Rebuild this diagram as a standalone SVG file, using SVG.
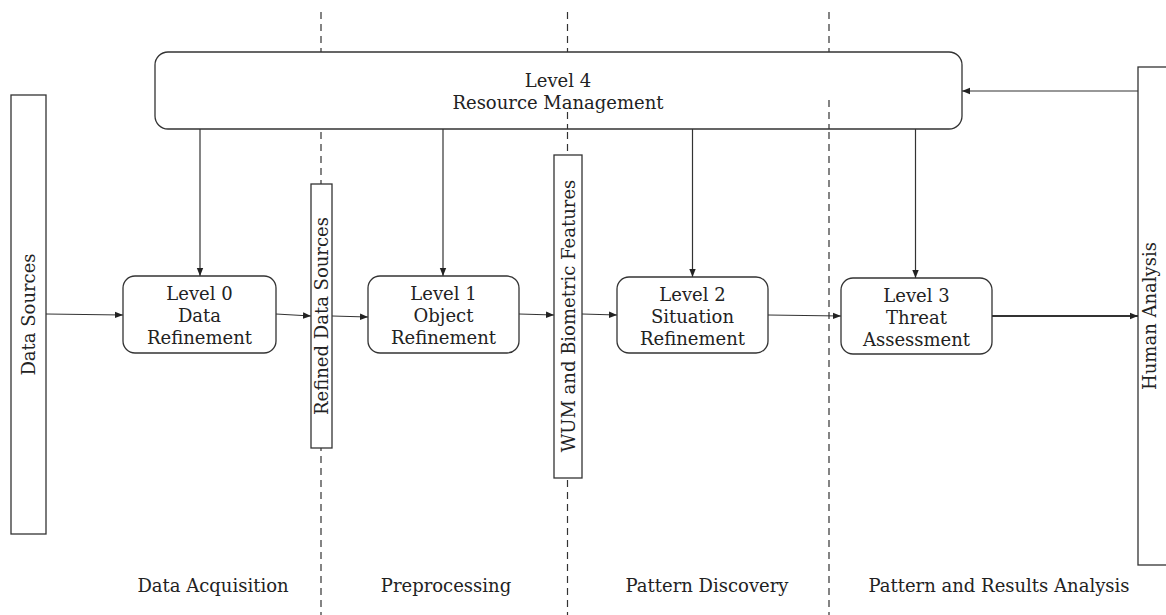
<svg xmlns="http://www.w3.org/2000/svg" width="1166" height="615" viewBox="0 0 1166 615">
<defs>
<style>
.box{fill:#fff;stroke:#333;stroke-width:1.3}
.bar{fill:#fff;stroke:#333;stroke-width:1.3}
.t{font-family:"DejaVu Serif","Liberation Serif",serif;font-size:18px;fill:#222;text-anchor:middle}
.c{stroke:#333;stroke-width:1.2;fill:none;marker-end:url(#ah)}
.dash{stroke:#333;stroke-width:1.2;stroke-dasharray:7 5;fill:none}
</style>
<marker id="ah" viewBox="0 0 10 10" refX="10" refY="5" markerWidth="8" markerHeight="8" markerUnits="userSpaceOnUse" orient="auto">
<path d="M0,1 L10,5 L0,9 Z" fill="#222"/>
</marker>
</defs>
<rect width="1166" height="615" fill="#fff"/>
<g id="lanes">
<line class="dash" x1="321" y1="12" x2="321" y2="615"/>
<line class="dash" x1="567.5" y1="12" x2="567.5" y2="615"/>
<line class="dash" x1="829" y1="12" x2="829" y2="615"/>
<text class="t" x="213" y="592">Data Acquisition</text>
<text class="t" x="446" y="592">Preprocessing</text>
<text class="t" x="707" y="592">Pattern Discovery</text>
<text class="t" x="999" y="592">Pattern and Results Analysis</text>
</g>
<g id="connectors">
<line class="c" x1="46" y1="314" x2="123" y2="315"/>
<line class="c" x1="276" y1="314" x2="311" y2="316"/>
<line class="c" x1="332" y1="316" x2="368" y2="317"/>
<line class="c" x1="519" y1="314" x2="554" y2="315"/>
<line class="c" x1="582" y1="314" x2="617" y2="315"/>
<line class="c" x1="768" y1="315" x2="841" y2="316"/>
<line class="c" x1="992" y1="316" x2="1138" y2="316" style="stroke-width:1.8"/>
<line class="c" x1="1138" y1="91" x2="962" y2="91"/>
<line class="c" x1="200" y1="129" x2="200" y2="276"/>
<line class="c" x1="443" y1="129" x2="443" y2="276"/>
<line class="c" x1="692.5" y1="129" x2="692.5" y2="277"/>
<line class="c" x1="915.5" y1="129" x2="915.5" y2="278"/>
</g>
<g id="level4">
<rect class="box" x="155" y="52" width="807" height="77" rx="13"/>
<text class="t" x="558" y="87">Level 4</text>
<text class="t" x="558" y="109">Resource Management</text>
<line class="dash" x1="567.5" y1="112" x2="567.5" y2="129"/>
<line class="dash" x1="829" y1="100" x2="829" y2="129"/>
</g>
<g id="data-sources">
<rect class="bar" x="11" y="95" width="35" height="439"/>
<text class="t" transform="translate(34.5,314.5) rotate(-90)">Data Sources</text>
</g>
<g id="refined-data-sources">
<rect class="bar" x="311" y="184" width="21" height="264"/>
<text class="t" transform="translate(328,316) rotate(-90)">Refined Data Sources</text>
</g>
<g id="wum">
<rect class="bar" x="554" y="155" width="28" height="323"/>
<text class="t" transform="translate(574.5,316) rotate(-90)">WUM and Biometric Features</text>
</g>
<g id="human-analysis">
<rect class="bar" x="1138" y="67" width="40" height="498"/>
<text class="t" transform="translate(1156,316) rotate(-90)">Human Analysis</text>
</g>
<g id="level0">
<rect class="box" x="123" y="276" width="153" height="77" rx="12"/>
<text class="t" x="199.5" y="300">Level 0</text>
<text class="t" x="199.5" y="322">Data</text>
<text class="t" x="199.5" y="344">Refinement</text>
</g>
<g id="level1">
<rect class="box" x="368" y="276" width="151" height="77" rx="12"/>
<text class="t" x="443.5" y="300">Level 1</text>
<text class="t" x="443.5" y="322">Object</text>
<text class="t" x="443.5" y="344">Refinement</text>
</g>
<g id="level2">
<rect class="box" x="617" y="277" width="151" height="76" rx="12"/>
<text class="t" x="692.5" y="301">Level 2</text>
<text class="t" x="692.5" y="323">Situation</text>
<text class="t" x="692.5" y="345">Refinement</text>
</g>
<g id="level3">
<rect class="box" x="841" y="278" width="151" height="76" rx="12"/>
<text class="t" x="916.5" y="302">Level 3</text>
<text class="t" x="916.5" y="324">Threat</text>
<text class="t" x="916.5" y="346">Assessment</text>
</g>
</svg>
